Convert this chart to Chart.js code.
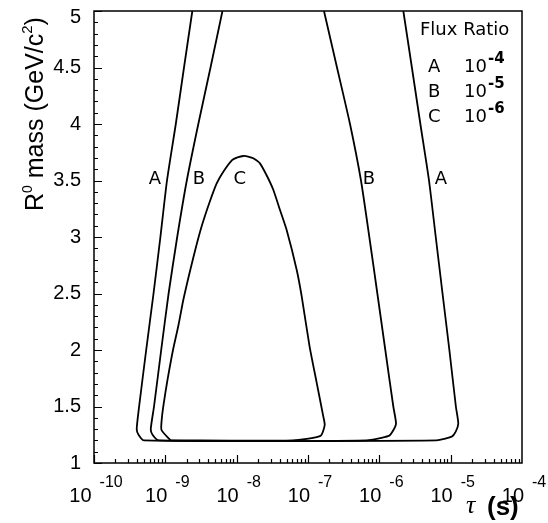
<!DOCTYPE html>
<html>
<head>
<meta charset="utf-8">
<script src="https://cdn.jsdelivr.net/npm/chart.js@4.4.0/dist/chart.umd.min.js"></script>
<style>
  html, body { margin: 0; padding: 0; background: #fff; }
  #wrap { width: 548px; height: 523px; }
</style>
</head>
<body>
<div id="wrap"><canvas id="chart" width="548" height="523"></canvas></div>
<script>
// Contour A, flux ratio 1e-4: lifetime tau [s] vs R0 mass [GeV/c^2]
const tauA = [2.39e-9, 1.827e-9, 1.402e-9, 1.055e-9, 8.53e-10, 6.83e-10, 5.39e-10, 4.29e-10, 3.97e-10, 4.21e-10, 5.02e-10,
              6.37e-6, 1.035e-5, 1.178e-5, 1.279e-5, 1.183e-5, 9.59e-6, 7.69e-6, 6.18e-6, 4.97e-6, 3.76e-6, 2.86e-6, 2.17e-6];
const massA = [5.0, 4.5, 4.0, 3.5, 3.0, 2.5, 2.0, 1.5, 1.30, 1.25, 1.2,
               1.2, 1.233, 1.277, 1.35, 1.5, 2.0, 2.5, 3.0, 3.5, 4.0, 4.5, 5.0];

// Contour B, flux ratio 1e-5
const tauB = [6.32e-9, 4.30e-9, 2.90e-9, 2.00e-9, 1.467e-9, 1.111e-9, 8.75e-10, 6.94e-10, 6.25e-10, 6.61e-10, 8.15e-10,
              6.65e-7, 1.355e-6, 1.57e-6, 1.714e-6, 1.57e-6, 1.213e-6, 9.38e-7, 7.24e-7, 5.53e-7, 3.88e-7, 2.55e-7, 1.675e-7];
const massB = [5.0, 4.5, 4.0, 3.5, 3.0, 2.5, 2.0, 1.5, 1.30, 1.25, 1.2,
               1.2, 1.24, 1.29, 1.35, 1.5, 2.0, 2.5, 3.0, 3.5, 4.0, 4.5, 5.0];

// Contour C, flux ratio 1e-6 (closed)
const tauC = [1.182e-9, 8.84e-10, 8.89e-10, 9.42e-10, 1.072e-9, 1.281e-9, 1.530e-9, 1.786e-9, 2.218e-9, 2.69e-9, 3.27e-9,
              4.23e-9, 5.25e-9, 6.50e-9, 8.61e-9, 1.028e-8, 1.239e-8, 1.49e-8, 1.71e-8, 2.12e-8, 2.66e-8, 3.27e-8, 4.05e-8,
              5.02e-8, 6.95e-8, 8.17e-8, 1.05e-7, 1.312e-7, 1.64e-7, 1.714e-7, 1.496e-7, 6.07e-8, 1.182e-9];
const massC = [1.2, 1.292, 1.381, 1.513, 1.735, 2.0, 2.221, 2.442, 2.699, 2.912, 3.106,
               3.319, 3.475, 3.578, 3.681, 3.705, 3.717, 3.710, 3.696, 3.652, 3.540, 3.416, 3.239,
               3.062, 2.708, 2.472, 2.035, 1.723, 1.41, 1.336, 1.24, 1.2, 1.2];

// legend
const fluxNames = ['A', 'B', 'C'];
const fluxExps = ['-4', '-5', '-6'];

// curve tags drawn next to each branch
const tagText = ['A', 'B', 'C', 'B', 'A'];
const tagTau = [7.16e-10, 2.96e-9, 1.11e-8, 7.13e-7, 7.28e-6];
const tagMass = [3.51, 3.51, 3.51, 3.51, 3.51];

// axis ticks
const yTickVals = [1, 1.5, 2, 2.5, 3, 3.5, 4, 4.5, 5];
const yTickText = ['1', '1.5', '2', '2.5', '3', '3.5', '4', '4.5', '5'];
const xDecades = [-10, -9, -8, -7, -6, -5, -4];

function zip(tau, mass) {
  return tau.map((t, i) => ({ x: t, y: mass[i] }));
}

function contour(tau, mass) {
  return {
    data: zip(tau, mass),
    showLine: true,
    borderColor: '#000',
    borderWidth: 1.8,
    pointRadius: 0,
    fill: false,
    tension: 0.2
  };
}

const SANS = '"Liberation Sans", Arial, sans-serif';
const DJ = '"DejaVu Sans", sans-serif';

const decor = {
  id: 'decor',
  afterDatasetsDraw(chart) {
    const { ctx, chartArea: a, scales: { x, y } } = chart;
    ctx.save();
    ctx.strokeStyle = '#000';
    ctx.fillStyle = '#000';

    // frame
    ctx.lineWidth = 1.5;
    ctx.strokeRect(a.left, a.top, a.right - a.left, a.bottom - a.top);

    // y ticks, pointing inward from the left axis
    ctx.lineWidth = 1.2;
    ctx.beginPath();
    for (let i = 0; i <= 40; i++) {
      const py = Math.round(y.getPixelForValue(1 + i * 0.1)) + 0.5;
      const len = i % 5 === 0 ? 8 : 4;
      ctx.moveTo(a.left, py);
      ctx.lineTo(a.left + len, py);
    }
    // x ticks, pointing up from the bottom axis
    for (let d = -10; d < -4; d++) {
      for (let k = 1; k <= 9; k++) {
        const px = Math.round(x.getPixelForValue(k * Math.pow(10, d))) + 0.5;
        const len = k === 1 ? 8 : 4;
        ctx.moveTo(px, a.bottom);
        ctx.lineTo(px, a.bottom - len);
      }
    }
    ctx.stroke();

    // y tick labels (top one kept inside the frame height)
    ctx.font = '20px ' + SANS;
    ctx.textAlign = 'right';
    ctx.textBaseline = 'middle';
    yTickVals.forEach((v, i) => {
      const py = Math.max(y.getPixelForValue(v), a.top + 6);
      ctx.fillText(yTickText[i], a.left - 13, py);
    });

    // x tick labels: "10" plus exponent, the pair centred on the tick
    ctx.textBaseline = 'alphabetic';
    ctx.textAlign = 'left';
    xDecades.forEach(d => {
      const px = x.getPixelForValue(Math.pow(10, d));
      ctx.font = '20px ' + SANS;
      const w1 = ctx.measureText('10').width;
      ctx.font = '16px ' + SANS;
      const w2 = ctx.measureText(String(d)).width;
      const left = px + 2 - (w1 + 8 + w2) / 2;
      ctx.font = '20px ' + SANS;
      ctx.fillText('10', left, a.bottom + 39);
      ctx.font = '16px ' + SANS;
      ctx.fillText(String(d), left + w1 + 8, a.bottom + 24);
    });

    // x title
    ctx.font = 'italic 26px "Liberation Serif", serif';
    ctx.fillText('\u03c4', a.right - 56, a.bottom + 50);
    ctx.font = 'bold 26px ' + SANS;
    ctx.fillText('(s)', a.right - 35, a.bottom + 52);

    // y title, rotated
    ctx.save();
    ctx.translate(43, 211);
    ctx.rotate(-Math.PI / 2);
    let cx = 0;
    const piece = (txt, font, dy) => {
      ctx.font = font;
      ctx.fillText(txt, cx, dy);
      cx += ctx.measureText(txt).width;
    };
    piece('R', '25px ' + SANS, 0);
    piece('0', '14px ' + SANS, -11);
    piece(' mass (GeV/c', '25px ' + SANS, 0);
    piece('2', '15px ' + SANS, -11);
    piece(')', '25px ' + SANS, 0);
    ctx.restore();

    // legend
    ctx.font = '18px ' + DJ;
    ctx.fillText('Flux Ratio', a.right - 102, a.top + 24);
    fluxNames.forEach((n, i) => {
      const base = a.top + 61 + i * 25;
      ctx.font = '18px ' + DJ;
      ctx.fillText(n, a.right - 94, base);
      ctx.fillText('10', a.right - 58, base);
      ctx.font = 'bold 15px ' + DJ;
      ctx.fillText(fluxExps[i], a.right - 34, base - 9);
    });

    // branch tags
    ctx.font = '18px ' + DJ;
    ctx.textAlign = 'center';
    ctx.textBaseline = 'middle';
    tagText.forEach((t, i) => {
      ctx.fillText(t, x.getPixelForValue(tagTau[i]), y.getPixelForValue(tagMass[i]));
    });

    ctx.restore();
  }
};

new Chart(document.getElementById('chart'), {
  type: 'scatter',
  data: {
    datasets: [contour(tauA, massA), contour(tauB, massB), contour(tauC, massC)]
  },
  options: {
    responsive: false,
    animation: false,
    devicePixelRatio: 1,
    layout: { padding: { left: 94, right: 26, top: 11, bottom: 60 } },
    scales: {
      x: { type: 'logarithmic', min: 1e-10, max: 1e-4, display: false },
      y: { type: 'linear', min: 1, max: 5, display: false }
    },
    plugins: {
      legend: { display: false },
      tooltip: { enabled: false }
    }
  },
  plugins: [decor]
});
</script>
</body>
</html>
